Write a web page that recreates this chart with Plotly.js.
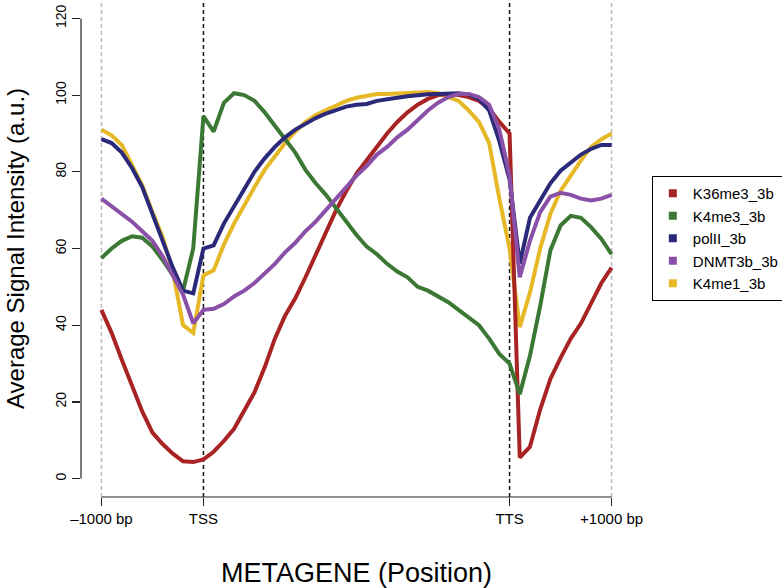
<!DOCTYPE html>
<html>
<head>
<meta charset="utf-8">
<script src="https://cdn.plot.ly/plotly-3.0.1.min.js"></script>
<style>html,body{margin:0;padding:0;background:#fff;}#chart{width:782px;height:588px;}</style>
</head>
<body>
<div id="chart"></div>
<script>
// Metagene bins: 0 = -1000 bp, 20 = TSS, 80 = TTS, 100 = +1000 bp
const position = [0,2,4,6,8,10,12,14,16,18,20,22,24,26,28,30,32,34,36,38,40,42,44,46,48,50,52,54,56,58,60,62,64,66,68,70,72,74,76,78,80,82,84,86,88,90,92,94,96,98,100];

const K36me3_3b = [44,38,31,24,17.5,12,9,6.5,4.5,4.3,5,7,9.8,13,17.5,22.5,29,36.5,42.5,47,52.5,58.5,64,70,75,79.5,83,86.5,90,93,95.5,97.5,99,100,100.3,100,99.5,98.5,96.5,93,90,5.5,8.3,18,26,31.5,36.5,40.5,45.5,51,55];
const K4me3_3b = [57.5,60,62,63.2,62.8,60.5,57,53,49,60,94.5,90.5,98,100.5,100,98.5,95.5,92,88.5,85,80.5,77,74,70.5,67,63.5,60.5,58.5,56,54,52.5,50,49,47.5,46,44,42,40,36.5,32.5,30,22,32,45,59.5,66,68.5,68,65.5,62.5,58.5];
const polII_3b = [88.5,87.5,85,81,76,69,61.5,55,49,48.3,60,60.8,66.5,71,75.5,80,83.5,86.5,89,91,92.5,94,95.2,96.2,97,97.5,97.7,98.5,99,99.3,99.7,100,100.2,100.3,100.5,100.5,100.2,99,96,88,78,56,68,72.5,77,80.3,82.5,84.5,86,87,87];
const DNMT3b_3b = [73,71,69,67,64.5,62,58,53,48,40.5,44,44.3,45.5,47.5,49,51,53.5,56,59,61.5,64.5,67,70,73,76,79,81.5,84.5,86.5,89,91,93.5,96,98,99.5,100.3,100.3,99.5,97.5,91,79,52.5,62,69.5,73.5,74.5,74,73,72.5,73,74];
const K4me1_3b = [91,89.5,87,82,76.5,69.5,63,54,40,38,53,54.3,61,66.5,71.5,76,80.5,84,87.5,90.5,93,94.8,96,97.3,98.5,99.3,99.7,100.3,100.3,100.5,100.5,100.7,100.8,100.5,99.5,98.5,96,93,87.5,73,60,39.5,48.5,60,69,75,79,83,86.5,88.5,90];

const tickPositions = [0,20,80,100];
const tickLabels = ['\u20131000 bp','TSS','TTS','+1000 bp'];
const yTicks = [0,20,40,60,80,100,120];

const seriesNames = ['K36me3_3b','K4me3_3b','polII_3b','DNMT3b_3b','K4me1_3b'];
const seriesValues = [K36me3_3b, K4me3_3b, polII_3b, DNMT3b_3b, K4me1_3b];
const colors = ['#A82323','#3A7834','#2B2A7A','#8A50A8','#E6B826'];
const drawOrder = [4,0,1,2,3];

const FONT = 'Liberation Sans, Arial, Helvetica, sans-serif';
const traces = [];
drawOrder.forEach(i => {
  traces.push({x: position, y: seriesValues[i], type: 'scatter', mode: 'lines',
    line: {color: colors[i], width: 4}, showlegend: false, hoverinfo: 'skip'});
});
seriesNames.forEach((n, i) => {
  traces.push({x: [null], y: [null], type: 'scatter', mode: 'markers', name: n,
    marker: {symbol: 'square', size: 8, color: colors[i]}, showlegend: true});
});

const shapes = [];
// vertical guide lines
[[0,'#bbbbbb'],[100,'#bbbbbb'],[20,'#111111'],[80,'#111111']].forEach(([xv,c]) => {
  shapes.push({type:'line', xref:'x', yref:'paper', x0:xv, x1:xv, y0:0, y1:1,
    line:{color:c, width:1.5, dash:'4px,3px'}, layer:'below'});
});
// axis lines (R style, detached)
shapes.push({type:'line', xref:'x', yref:'paper', x0:0, x1:100, y0:0, y1:0, line:{color:'#222', width:1.2}});
shapes.push({type:'line', xref:'paper', yref:'y', x0:0, x1:0, y0:0, y1:120, line:{color:'#222', width:1.2}});

const layout = {
  width: 782, height: 588,
  margin: {l: 81, r: 150, t: 0, b: 91, autoexpand: false},
  paper_bgcolor: '#fff', plot_bgcolor: '#fff',
  showlegend: true,
  font: {family: FONT, color: '#000'},
  xaxis: {range: [-4, 104], tickvals: tickPositions, ticktext: tickLabels,
    ticks: 'outside', ticklen: 8, tickwidth: 1.2, tickcolor: '#222',
    showgrid: false, zeroline: false, showline: false,
    tickfont: {size: 15, family: FONT, color: '#000'},
    title: {text: 'METAGENE (Position)', font: {size: 27, family: FONT, color: '#000'}, standoff: 38},
    automargin: false},
  yaxis: {range: [-4.8, 124.8], tickvals: yTicks, ticks: 'outside', ticklen: 8, tickwidth: 1.2, tickcolor: '#222',
    showgrid: false, zeroline: false, showline: false, tickangle: -90,
    tickfont: {size: 14, family: FONT, color: '#000'},
    title: {text: 'Average Signal Intensity (a.u.)', font: {size: 24, family: FONT, color: '#000'}, standoff: 22},
    automargin: false},
  legend: {x: 1.036, xanchor: 'left', y: 0.646, yanchor: 'top',
    bordercolor: '#000', borderwidth: 1, bgcolor: '#fff',
    font: {size: 15, family: FONT, color: '#000'}, itemwidth: 30, tracegroupgap: 0},
  shapes: shapes
};

Plotly.newPlot('chart', traces, layout, {displayModeBar: false, staticPlot: true});
</script>
</body>
</html>
